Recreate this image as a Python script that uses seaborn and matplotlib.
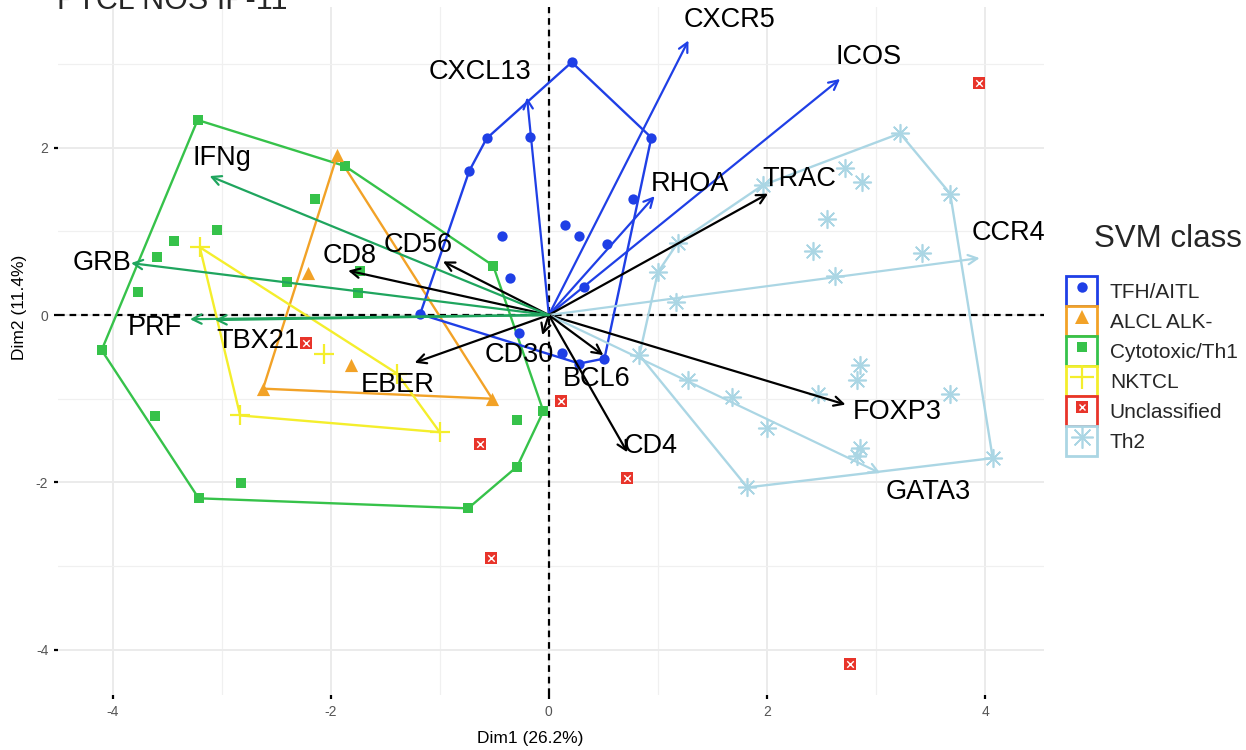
import numpy as np
import pandas as pd
import matplotlib
matplotlib.use("Agg")
import matplotlib.pyplot as plt
import seaborn as sns
from matplotlib.lines import Line2D
from matplotlib.patches import Patch

# ---------------- data ----------------
classes = ["TFH/AITL", "ALCL ALK-", "Cytotoxic/Th1", "NKTCL", "Unclassified", "Th2"]

tfh_x = [0.21, 0.94, -0.57, -0.17, -0.73, 0.77, 0.15, 0.28, 0.53, -0.43, -0.36, 0.32, -1.18, -0.27, 0.12, 0.28, 0.51]
tfh_y = [3.02, 2.12, 2.11, 2.13, 1.72, 1.39, 1.07, 0.94, 0.85, 0.94, 0.44, 0.33, 0.01, -0.21, -0.45, -0.58, -0.52]

alcl_x = [-1.94, -2.21, -1.81, -2.62, -0.52]
alcl_y = [1.91, 0.50, -0.60, -0.88, -1.00]

cyto_x = [-3.22, -1.87, -2.14, -3.04, -3.44, -3.59, -3.77, -2.40, -1.73, -1.75, -0.51, -4.10, -3.61, -2.82, -3.21, -0.74, -0.29, -0.29, -0.05]
cyto_y = [2.33, 1.78, 1.39, 1.01, 0.89, 0.69, 0.28, 0.39, 0.53, 0.26, 0.59, -0.42, -1.21, -2.01, -2.19, -2.31, -1.81, -1.26, -1.15]

nk_x = [-3.20, -2.06, -1.39, -2.83, -1.00]
nk_y = [0.81, -0.47, -0.70, -1.20, -1.40]

uncl_x = [3.94, -2.23, 0.11, -0.63, 0.72, -0.53, 2.76]
uncl_y = [2.77, -0.33, -1.03, -1.54, -1.95, -2.90, -4.17]

th2_x = [3.22, 2.72, 2.87, 3.68, 2.55, 2.42, 3.42, 2.62, 1.96, 1.18, 1.00, 1.17, 0.83, 1.28, 1.68, 2.00, 2.47, 2.85, 2.83, 2.85, 2.83, 3.68, 4.07, 1.82]
th2_y = [2.17, 1.76, 1.59, 1.45, 1.15, 0.77, 0.74, 0.47, 1.55, 0.86, 0.51, 0.15, -0.48, -0.78, -0.98, -1.35, -0.94, -0.60, -0.78, -1.59, -1.68, -0.94, -1.71, -2.06]

var_names = ["CXCR5", "ICOS", "CXCL13", "RHOA", "TRAC", "CCR4", "FOXP3", "GATA3", "CD4",
             "BCL6", "CD30", "EBER", "CD8", "CD56", "IFNg", "GRB", "PRF", "TBX21"]
var_x = [1.28, 2.67, -0.20, 0.97, 2.01, 3.95, 2.72, 3.04, 0.72, 0.50, -0.06, -1.23, -1.84, -0.97, -3.11, -3.83, -3.29, -3.06]
var_y = [3.28, 2.82, 2.60, 1.42, 1.45, 0.68, -1.07, -1.89, -1.64, -0.48, -0.24, -0.57, 0.53, 0.64, 1.66, 0.62, -0.05, -0.06]
var_group = ["tfh", "tfh", "tfh", "tfh", "none", "th2", "none", "th2", "none",
             "none", "none", "none", "none", "none", "cyto", "cyto", "cyto", "cyto"]
lab_x = [1.66, 2.93, -0.63, 1.29, 2.30, 4.21, 3.19, 3.48, 0.93, 0.44, -0.27, -1.39, -1.83, -1.20, -3.00, -4.10, -3.61, -2.67]
lab_y = [3.52, 3.08, 2.90, 1.57, 1.63, 0.98, -1.16, -2.12, -1.56, -0.76, -0.48, -0.84, 0.71, 0.84, 1.87, 0.62, -0.15, -0.31]

x_ticks = [-4, -2, 0, 2, 4]
y_ticks = [-4, -2, 0, 2]

# ---------------- styling ----------------
colors = {"TFH/AITL": "#1F3FE6", "ALCL ALK-": "#F2A227", "Cytotoxic/Th1": "#36C24A",
          "NKTCL": "#F4EE2C", "Unclassified": "#E8342A", "Th2": "#ABD6E4"}
arrow_colors = {"tfh": "#1F3FE6", "th2": "#ABD6E4", "cyto": "#1FA55E", "none": "black"}

sns.set_theme(style="white")
plt.rcParams["font.family"] = ["Liberation Sans", "DejaVu Sans"]
plt.rcParams["axes.unicode_minus"] = False

fig = plt.figure(figsize=(12.46, 7.5), dpi=100)
ax = fig.add_axes([58 / 1246, 55 / 750, 986 / 1246, 688 / 750])
ax.set_xlim(-4.50, 4.54)
ax.set_ylim(-4.54, 3.68)

ax.set_xticks(x_ticks)
ax.set_yticks(y_ticks)
ax.set_xticks([-3, -1, 1, 3], minor=True)
ax.set_yticks([-3, -1, 1, 3], minor=True)
ax.grid(which="major", color="#EBEBEB", lw=1.4, zorder=0)
ax.grid(which="minor", color="#F0F0F0", lw=0.9, zorder=0)
ax.set_axisbelow(True)
for s in ax.spines.values():
    s.set_visible(False)
ax.tick_params(which="major", length=3, width=1.6, color="black", labelcolor="#555555",
               labelsize=10, pad=4, bottom=True, left=True)
ax.tick_params(which="minor", length=0)

ax.axhline(0, color="black", ls=(0, (3, 2.2)), lw=1.6, zorder=1.5)
ax.axvline(0, color="black", ls=(0, (3, 2.2)), lw=1.6, zorder=1.5)


def convex_hull(xs, ys):
    pts = sorted(set(zip(xs, ys)))
    if len(pts) < 3:
        return pts

    def cross(o, a, b):
        return (a[0] - o[0]) * (b[1] - o[1]) - (a[1] - o[1]) * (b[0] - o[0])

    lower, upper = [], []
    for p in pts:
        while len(lower) >= 2 and cross(lower[-2], lower[-1], p) <= 0:
            lower.pop()
        lower.append(p)
    for p in reversed(pts):
        while len(upper) >= 2 and cross(upper[-2], upper[-1], p) <= 0:
            upper.pop()
        upper.append(p)
    return lower[:-1] + upper[:-1]


groups = {
    "TFH/AITL": (tfh_x, tfh_y),
    "ALCL ALK-": (alcl_x, alcl_y),
    "Cytotoxic/Th1": (cyto_x, cyto_y),
    "NKTCL": (nk_x, nk_y),
    "Unclassified": (uncl_x, uncl_y),
    "Th2": (th2_x, th2_y),
}

# hulls
for cls in ["Th2", "Cytotoxic/Th1", "ALCL ALK-", "NKTCL", "TFH/AITL"]:
    hx, hy = groups[cls]
    h = convex_hull(hx, hy)
    h = h + [h[0]]
    ax.plot([p[0] for p in h], [p[1] for p in h], color=colors[cls], lw=1.7, zorder=2)

# points
marker_spec = {
    "TFH/AITL": dict(marker="o", s=55, linewidth=0),
    "ALCL ALK-": dict(marker="^", s=90, linewidth=0),
    "Cytotoxic/Th1": dict(marker="s", s=55, linewidth=0),
    "NKTCL": dict(marker="+", s=200, linewidth=1.6),
    "Unclassified": dict(marker="s", s=80, linewidth=0),
    "Th2": dict(marker=(8, 2, 0), s=160, linewidth=1.2),
}
for cls in ["Th2", "Cytotoxic/Th1", "ALCL ALK-", "NKTCL", "TFH/AITL", "Unclassified"]:
    px, py = groups[cls]
    df = pd.DataFrame({"Dim1": px, "Dim2": py})
    sns.scatterplot(data=df, x="Dim1", y="Dim2", ax=ax, color=colors[cls], zorder=3,
                    legend=False, **marker_spec[cls])
    if cls == "Unclassified":
        sns.scatterplot(data=df, x="Dim1", y="Dim2", ax=ax, color="white", marker="x",
                        s=22, linewidth=1.0, zorder=3.1, legend=False)

# variable arrows
for name, vx, vy, g, lx, ly in zip(var_names, var_x, var_y, var_group, lab_x, lab_y):
    ax.annotate("", xy=(vx, vy), xytext=(0, 0),
                arrowprops=dict(arrowstyle="->,head_length=0.55,head_width=0.28",
                                color=arrow_colors[g], lw=1.6, shrinkA=0, shrinkB=0),
                zorder=4)
    ax.text(lx, ly, name, fontsize=19.5, ha="center", va="center", color="black", zorder=5)

ax.set_xlabel("Dim1 (26.2%)", fontsize=12.5, color="black")
ax.set_ylabel("Dim2 (11.4%)", fontsize=12.5, color="black")
ax.xaxis.set_label_coords(0.479, -0.052)
ax.yaxis.set_label_coords(-0.031, 0.564)

fig.text(57 / 1246, 1 - 9 / 750, "PTCL NOS IP-11", fontsize=22, ha="left", va="baseline")

# legend
ms = {"TFH/AITL": ("o", 7.5, 0), "ALCL ALK-": ("^", 10.5, 0), "Cytotoxic/Th1": ("s", 7, 0),
      "NKTCL": ("+", 17, 1.6), "Unclassified": ("s", 8.5, 0), "Th2": ((8, 2, 0), 16, 1.2)}
handles = []
for cls in classes:
    m, size, mew = ms[cls]
    box = Patch(facecolor="white", edgecolor=colors[cls], lw=2.0)
    mk = Line2D([], [], ls="", marker=m, ms=size, color=colors[cls], mew=mew)
    if cls == "Unclassified":
        xm = Line2D([], [], ls="", marker="x", ms=4.5, color="white", mew=1.0)
        handles.append((box, mk, xm))
    else:
        handles.append((box, mk))

fig.text(1168 / 1246, 1 - 239 / 750, "SVM class", fontsize=22.5, ha="center", va="center")
leg = fig.legend(handles, classes, loc="upper left",
                 bbox_to_anchor=(1066 / 1246, 1 - 276 / 750), frameon=False,
                 fontsize=15, handlelength=1.5, handleheight=1.84,
                 labelspacing=0.0, handletextpad=0.6, borderaxespad=0, borderpad=0)

fig.savefig("out.png", dpi=100)
